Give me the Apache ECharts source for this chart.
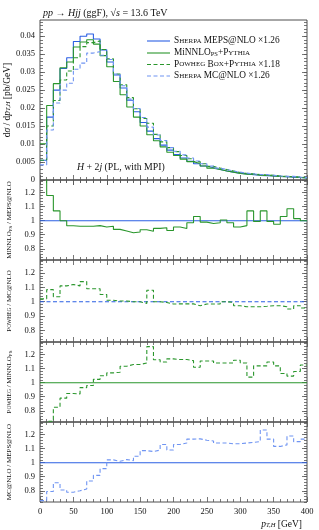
<!DOCTYPE html>
<html>
<head>
<meta charset="utf-8">
<script src="https://cdn.jsdelivr.net/npm/echarts@6/dist/echarts.min.js"></script>
<style>
html,body{margin:0;padding:0;background:#fff;}
#chart{width:319px;height:530px;}
</style>
</head>
<body>
<div id="chart"></div>
<script>
// ---- data (10 GeV bins, 0..400 GeV) ----
const binEdges = [0,10,20,30,40,50,60,70,80,90,100,110,120,130,140,150,160,170,180,190,200,
  210,220,230,240,250,260,270,280,290,300,310,320,330,340,350,360,370,380,390,400];

// Sherpa MEPS@NLO x1.26
const mepsNLO = [0.0055,0.0175,0.0250,0.0310,0.0340,0.0385,0.0400,0.0406,0.0392,0.0362,
  0.0328,0.0292,0.0256,0.0222,0.0190,0.0160,0.0136,0.0115,0.0097,0.0083,
  0.0071,0.0061,0.0052,0.0045,0.0039,0.0034,0.0029,0.0025,0.0022,0.0019,
  0.0017,0.0015,0.0013,0.0012,0.0011,0.0010,0.0009,0.0008,0.0007,0.0006];
// MiNNLO_PS + Pythia
const minnloPS = [0.0101,0.0207,0.0268,0.0312,0.0328,0.0370,0.0384,0.0390,0.0378,0.0346,
  0.0315,0.0274,0.0237,0.0203,0.0175,0.0150,0.0126,0.0109,0.0092,0.0077,
  0.0068,0.0058,0.0051,0.0046,0.0039,0.0033,0.0029,0.0025,0.0022,0.0018,
  0.0016,0.0016,0.0013,0.0013,0.0011,0.0010,0.0009,0.0009,0.0007,0.0006];
// Powheg Box + Pythia x1.18
const powhegBox = [0.0055,0.0150,0.0221,0.0278,0.0303,0.0340,0.0371,0.0382,0.0387,0.0363,
  0.0337,0.0295,0.0265,0.0229,0.0198,0.0171,0.0158,0.0127,0.0106,0.0090,
  0.0079,0.0068,0.0059,0.0051,0.0045,0.0038,0.0033,0.0029,0.0025,0.0021,
  0.0018,0.0017,0.0015,0.0014,0.0013,0.0011,0.0010,0.0009,0.0008,0.0007];
// Sherpa MC@NLO x1.26
const mcatNLO = [0.0042,0.0139,0.0214,0.0250,0.0269,0.0308,0.0325,0.0353,0.0357,0.0347,
  0.0335,0.0295,0.0262,0.0225,0.0199,0.0174,0.0147,0.0125,0.0110,0.0090,
  0.0080,0.0070,0.0061,0.0053,0.0045,0.0039,0.0033,0.0029,0.0025,0.0022,
  0.0019,0.0017,0.0015,0.0015,0.0013,0.0011,0.0010,0.0010,0.0008,0.0007];

// ratio panels
const ratioMinnloMeps = [1.90,1.18,1.07,1.00,0.964,0.96,0.96,0.96,0.965,0.955,
  0.96,0.938,0.926,0.914,0.92,0.935,0.925,0.945,0.95,0.93,
  0.955,0.945,0.985,1.03,0.99,0.98,0.985,1.005,0.985,0.955,
  0.965,1.07,0.995,1.07,0.995,0.975,1.03,1.085,1.015,1.00];
const ratioPowhegMcatnlo = [1.02,1.084,1.035,1.11,1.12,1.11,1.14,1.09,1.09,1.05,
  1.01,1.005,1.005,1.00,1.00,0.988,1.08,1.00,0.995,0.984,
  0.985,0.985,0.985,0.972,0.984,0.984,0.984,1.00,0.995,0.972,
  0.965,0.965,0.965,0.968,0.972,0.972,0.965,0.949,0.972,0.956];
const ratioPowhegMinnlo = [0.60,0.725,0.825,0.89,0.923,0.92,0.965,0.98,1.024,1.05,
  1.07,1.075,1.117,1.13,1.13,1.14,1.257,1.163,1.147,1.17,
  1.165,1.165,1.157,1.11,1.155,1.155,1.14,1.14,1.14,1.16,
  1.14,1.04,1.12,1.12,1.147,1.12,1.066,1.047,1.08,1.126];
const ratioMcatnloMeps = [0.73,0.795,0.857,0.806,0.79,0.80,0.813,0.87,0.91,0.958,
  1.02,1.01,1.022,1.015,1.046,1.086,1.08,1.09,1.13,1.09,
  1.13,1.14,1.168,1.17,1.16,1.155,1.14,1.14,1.135,1.135,
  1.14,1.145,1.15,1.233,1.168,1.116,1.127,1.19,1.15,1.168];

const refX = [0, 400];
const refY = [1, 1];

const mainTickLabels = [0,0.005,0.01,0.015,0.02,0.025,0.03,0.035,0.04];
const ratioTickLabels = [0.8,0.9,1,1.1,1.2];

// ---- layout ----
const FONT = '"Liberation Serif", "DejaVu Serif", serif';
const BLUE = '#2b5fe3', GREEN = '#2a962c', LBLUE = '#6f94f2';
const L = 40, W = 267;
const grids = [
  {top: 20, height: 160},
  {top: 180, height: 80},
  {top: 260, height: 82},
  {top: 342, height: 80},
  {top: 422, height: 80}
];
const mainRange = [0, 0.0445];
const ratioRange = [0.72, 1.29];

function steps(lo, hi, st) {
  const out = [];
  for (let k = Math.round(lo / st); k * st <= hi + 1e-9; k++) out.push(+(k * st).toFixed(4));
  return out.filter(v => v >= lo - 1e-9);
}
function fmt(v) { return String(+(+v).toFixed(4)); }

const xAxis = [], yAxis = [];
grids.forEach((g, i) => {
  const last = i === grids.length - 1;
  ['bottom', 'top'].forEach(pos => {
    xAxis.push({
      type: 'value', gridIndex: i, min: 0, max: 400, interval: 50, position: pos,
      axisLine: {show: false},
      axisTick: {show: true, inside: true, length: 5, lineStyle: {color: '#555', width: 0.8}},
      minorTick: {show: true, splitNumber: 5, length: 3, lineStyle: {color: '#555', width: 0.8}},
      splitLine: {show: false}, minorSplitLine: {show: false},
      axisLabel: {show: last && pos === 'bottom', fontFamily: FONT, fontSize: 8.5, color: '#111', margin: 5}
    });
  });
  const isMain = i === 0;
  const rng = isMain ? mainRange : ratioRange;
  const major = isMain ? mainTickLabels : ratioTickLabels;
  const minor = isMain ? steps(0, rng[1], 0.001) : steps(0.72, 1.29, 0.02);
  const names = [
    'd{i|σ} / d{i|p}{sub|T,H} [pb/GeV]',
    'M{sc|I}NNLO{sub|PS} / MEPS@NLO',
    'P{sc|OWHEG} / MC@NLO',
    'P{sc|OWHEG} / M{sc|I}NNLO{sub|PS}',
    'MC@NLO / MEPS@NLO'
  ];
  const nameRich = isMain
    ? {i: {fontStyle: 'italic', fontFamily: FONT, fontSize: 9.5}, sub: {fontFamily: FONT, fontSize: 6.5, fontStyle: 'italic', verticalAlign: 'bottom', lineHeight: 8}}
    : {sc: {fontFamily: FONT, fontSize: 5.5}, sub: {fontFamily: FONT, fontSize: 5, verticalAlign: 'bottom', lineHeight: 6}};
  ['left', 'right'].forEach(pos => {
    yAxis.push({
      type: 'value', gridIndex: i, min: rng[0], max: rng[1], position: pos,
      name: pos === 'left' ? names[i] : '',
      nameLocation: 'middle', nameRotate: 90, nameGap: isMain ? 28 : 27,
      nameMoveOverlap: false,
      nameTextStyle: {fontFamily: FONT, fontSize: isMain ? 9.5 : 7, color: '#111', rich: nameRich},
      axisLine: {show: false},
      splitLine: {show: false},
      axisTick: {show: true, inside: true, length: 5, customValues: major, lineStyle: {color: '#555', width: 0.8}},
      axisLabel: {show: pos === 'left', customValues: major, formatter: fmt, showMinLabel: true,
        fontFamily: FONT, fontSize: 8.5, color: '#111', margin: 5}
    });
    yAxis.push({
      type: 'value', gridIndex: i, min: rng[0], max: rng[1], position: pos,
      axisLine: {show: false}, splitLine: {show: false},
      axisTick: {show: true, inside: true, length: 3, customValues: minor, lineStyle: {color: '#555', width: 0.8}},
      axisLabel: {show: false}
    });
  });
});

function hist(vals) {
  return vals.map((v, k) => [binEdges[k], v]).concat([[binEdges[vals.length], vals[vals.length - 1]]]);
}
function refData() { return refX.map((x, k) => [x, refY[k]]); }

function line(name, g, data, color, dashed, stepped) {
  return {
    name: name, type: 'line', xAxisIndex: 2 * g, yAxisIndex: 4 * g,
    data: data, step: stepped ? 'end' : false, symbol: 'none', showSymbol: false,
    clip: true, animation: false, silent: true,
    lineStyle: {color: color, width: 1.1, type: dashed ? [4, 2.5] : 'solid'},
    itemStyle: {color: color}
  };
}

const series = [
  line('Sherpa MEPS@NLO', 0, hist(mepsNLO), BLUE, false, true),
  line('MiNNLO', 0, hist(minnloPS), GREEN, false, true),
  line('Powheg', 0, hist(powhegBox), GREEN, true, true),
  line('Sherpa MC@NLO', 0, hist(mcatNLO), LBLUE, true, true),

  line('ref1', 1, refData(), BLUE, false, false),
  line('r1', 1, hist(ratioMinnloMeps), GREEN, false, true),

  line('ref2', 2, refData(), BLUE, true, false),
  line('r2', 2, hist(ratioPowhegMcatnlo), GREEN, true, true),

  line('ref3', 3, refData(), GREEN, false, false),
  line('r3', 3, hist(ratioPowhegMinnlo), GREEN, true, true),

  line('ref4', 4, refData(), BLUE, false, false),
  line('r4', 4, hist(ratioMcatnloMeps), LBLUE, true, true)
];

// legend entries
const legendNames = [
  '{n|S}{sc|HERPA}{n| MEPS@NLO ×1.26}',
  '{n|MiNNLO}{sub|PS}{n|+P}{sc|YTHIA}',
  '{n|P}{sc|OWHEG}{n| B}{sc|OX}{n|+P}{sc|YTHIA}{n| ×1.18}',
  '{n|S}{sc|HERPA}{n| MC@NLO ×1.26}'
];
const legendColors = [BLUE, GREEN, GREEN, LBLUE];
const legendDashed = [false, false, true, true];
const legendRows = [41, 53, 64.5, 76];
const legendRich = {
  n: {fontFamily: FONT, fontSize: 9.3, fill: '#111'},
  sc: {fontFamily: FONT, fontSize: 7, fill: '#111'},
  sub: {fontFamily: FONT, fontSize: 6.5, fill: '#111', verticalAlign: 'bottom', lineHeight: 7}
};
const graphic = [];
legendNames.forEach((t, k) => {
  graphic.push({
    type: 'line', silent: true,
    shape: {x1: 147, y1: legendRows[k], x2: 170, y2: legendRows[k]},
    style: {stroke: legendColors[k], lineWidth: 1.1, lineDash: legendDashed[k] ? [4, 2.5] : null}
  });
  graphic.push({
    type: 'text', silent: true, x: 174, y: legendRows[k],
    style: {text: t, rich: legendRich, fontFamily: FONT, fontSize: 9.3, fill: '#111', verticalAlign: 'middle', align: 'left'}
  });
});

const option = {
  animation: false,
  backgroundColor: '#fff',
  grid: grids.map(g => ({left: L, width: W, top: g.top, height: g.height, show: true,
    outerBoundsMode: 'none', containLabel: false,
    borderColor: '#222', borderWidth: 0.8, backgroundColor: 'transparent'})),
  xAxis: xAxis,
  yAxis: yAxis,
  series: series,
  graphic: graphic,
  title: [
    {
      text: '{i|pp} → {i|Hjj} (ggF), √{i|s} = 13.6 TeV',
      left: 38, top: 3,
      textStyle: {fontFamily: FONT, fontSize: 10, fontWeight: 'normal', color: '#111',
        rich: {i: {fontFamily: FONT, fontSize: 10, fontStyle: 'italic', color: '#111'}}}
    },
    {
      text: '{i|p}{sub|T,H} [GeV]',
      right: 12, top: 514,
      textStyle: {fontFamily: FONT, fontSize: 9.5, fontWeight: 'normal', color: '#111',
        rich: {i: {fontFamily: FONT, fontSize: 9.5, fontStyle: 'italic', color: '#111'},
               sub: {fontFamily: FONT, fontSize: 6.5, fontStyle: 'italic', color: '#111', verticalAlign: 'bottom', lineHeight: 8}}}
    },
    {
      text: '{i|H} + 2{i|j} (PL, with MPI)',
      left: 72, top: 157,
      textStyle: {fontFamily: FONT, fontSize: 9.8, fontWeight: 'normal', color: '#111',
        rich: {i: {fontFamily: FONT, fontSize: 9.8, fontStyle: 'italic', color: '#111'}}}
    }
  ]
};

const chart = echarts.init(document.getElementById('chart'), null, {renderer: 'canvas'});
chart.setOption(option);
</script>
</body>
</html>
